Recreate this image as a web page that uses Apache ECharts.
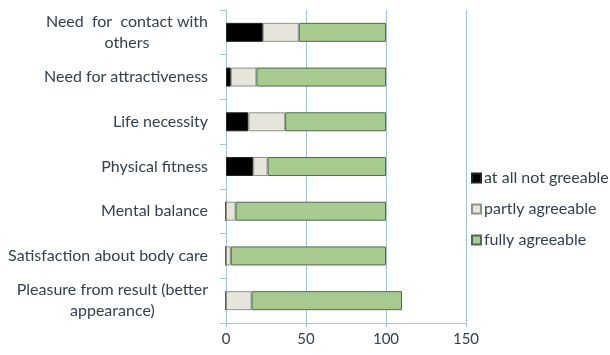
<!DOCTYPE html>
<html>
<head>
<meta charset="utf-8">
<script src="https://cdn.jsdelivr.net/npm/echarts@6/dist/echarts.min.js"></script>
<style>
  html, body { margin: 0; padding: 0; background: #fff; }
  #chart { width: 610px; height: 355px; }
</style>
</head>
<body>
<div id="chart"></div>
<script>
const categories = [
  'Need  for  contact with\nothers',
  'Need for attractiveness',
  'Life necessity',
  'Physical fitness',
  'Mental balance',
  'Satisfaction about body care',
  'Pleasure from result (better\nappearance)'
]
const notAgreeable = [23, 3, 14, 17, 0, 0, 0]
const partlyAgreeable = [22.5, 16, 23, 9, 6, 3, 16]
const fullyAgreeable = [54.5, 81, 63, 74, 94, 97, 94]
const xTicks = [0, 50, 100, 150]

const textColor = '#34414d'
const axisColor = '#a9c3d6'

const chart = echarts.init(document.getElementById('chart'))

function barSeries(name, data, color, border) {
  return {
    name: name,
    type: 'bar',
    stack: 'total',
    barWidth: 19,
    data: data,
    itemStyle: { color: color, borderColor: border, borderWidth: 1 }
  }
}

chart.setOption({
  animation: false,
  textStyle: { fontFamily: 'Lato', color: textColor },
  grid: { left: 226, right: 144, top: 10, bottom: 32 },
  xAxis: {
    type: 'value',
    min: xTicks[0],
    max: xTicks[xTicks.length - 1],
    interval: 50,
    axisLine: { show: true, lineStyle: { color: axisColor } },
    axisTick: { show: true, length: 4, lineStyle: { color: axisColor } },
    splitLine: { show: true, lineStyle: { color: axisColor } },
    axisLabel: { color: textColor, fontSize: 15, margin: 9 }
  },
  yAxis: {
    type: 'category',
    inverse: true,
    data: categories,
    axisLine: { show: true, lineStyle: { color: axisColor } },
    axisTick: { show: true, length: 6, lineStyle: { color: axisColor } },
    axisLabel: {
      margin: 18,
      formatter: function (v) {
        return v.split('\n').map(function (s) { return '{c|' + s + '}' }).join('\n')
      },
      rich: {
        c: { align: 'center', color: textColor, fontSize: 16, lineHeight: 21, fontFamily: 'Lato' }
      }
    }
  },
  legend: {
    orient: 'vertical',
    left: 466,
    top: 165,
    itemWidth: 9,
    itemHeight: 9,
    itemGap: 15,
    icon: 'rect',
    textStyle: { color: textColor, fontSize: 16, padding: [0, 0, 0, -2] },
    data: ['at all not greeable', 'partly agreeable', 'fully agreeable']
  },
  series: [
    barSeries('at all not greeable', notAgreeable, '#000000', '#222222'),
    barSeries('partly agreeable', partlyAgreeable, '#e6e5dc', '#8c9488'),
    barSeries('fully agreeable', fullyAgreeable, '#a9ca8f', '#4f6b55')
  ]
})
</script>
</body>
</html>
